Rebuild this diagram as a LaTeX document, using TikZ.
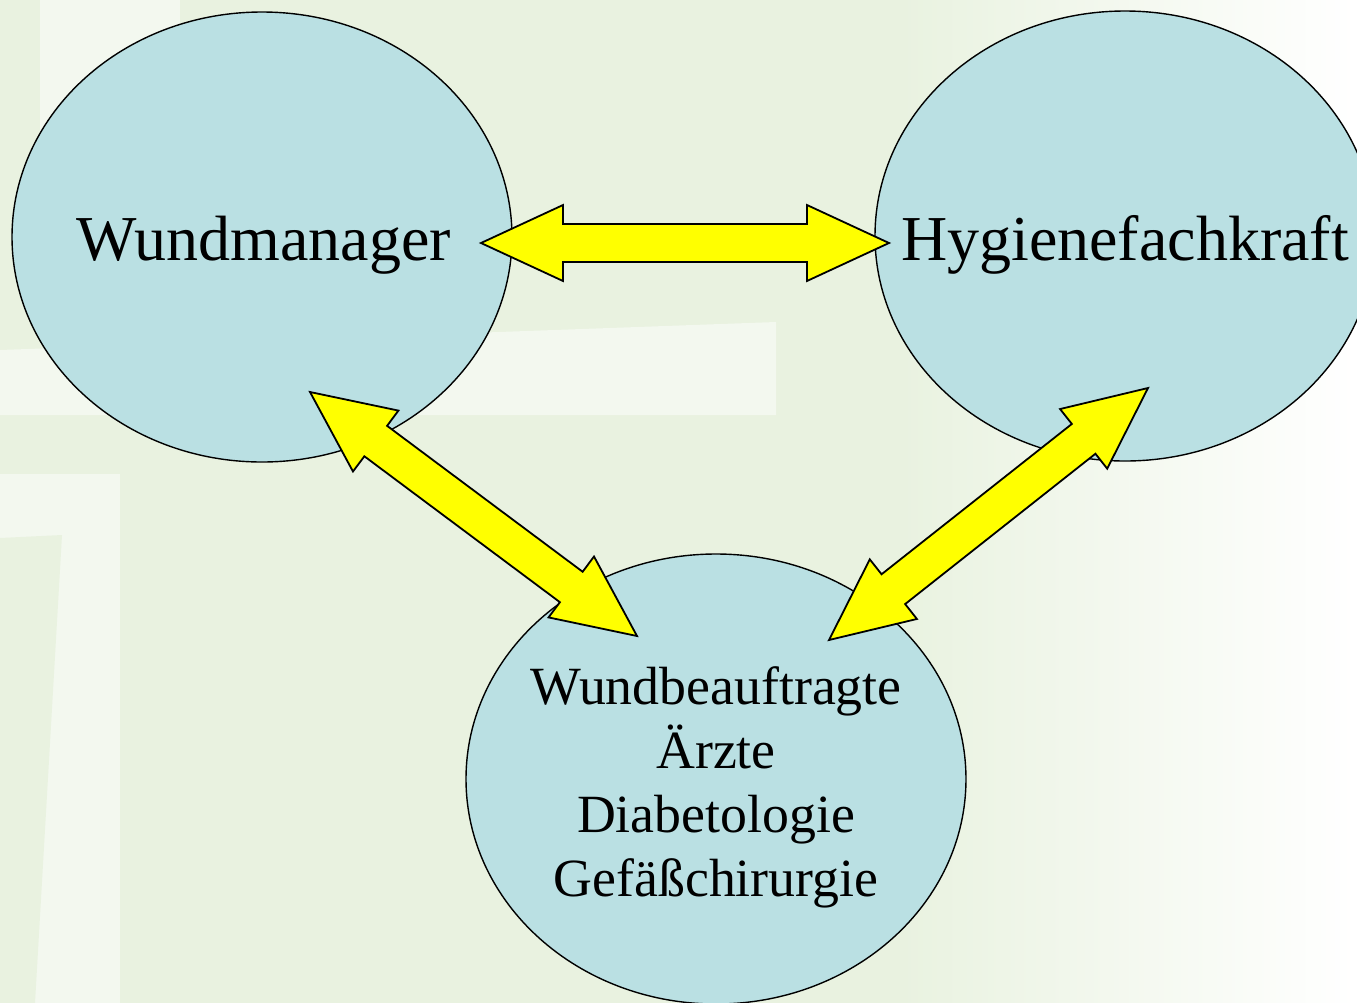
\documentclass[tikz,border=0pt]{standalone}
\usepackage{fontspec}
\setmainfont{Liberation Serif}
\usetikzlibrary{calc}
\usetikzlibrary{shapes.geometric}
\definecolor{ColBg}{RGB}{233,242,224}
\definecolor{ColBand}{RGB}{243,248,239}
\definecolor{ColBubble}{RGB}{186,224,227}
\definecolor{ColArrow}{RGB}{255,255,0}
\tikzstyle{Bubble}=[ellipse,draw=black,fill=ColBubble,line width=0.7pt,inner sep=0pt,
minimum width=250pt,minimum height=225pt]
\tikzstyle{BigArrow}=[draw=black,fill=ColArrow,line width=0.9pt,line join=miter]
\tikzstyle{BigText}=[font=\fontsize{32}{38}\selectfont,inner sep=0pt,anchor=base]
\tikzstyle{SmallText}=[font=\fontsize{26.9}{32}\selectfont,align=center,inner sep=0pt]
% double arrow between two named points
\newcommand\BothWays[2]{%
  \draw[BigArrow] let \p1=($(#2)-(#1)$), \n1={atan2(\y1,\x1)}, \n2={veclen(\x1,\y1)} in
    (#1) -- ++({\n1+24.86}:45.19pt) -- ++({\n1-90}:9.5pt) -- ++(\n1:{\n2-82pt})
    -- ++({\n1+90}:9.5pt) -- (#2) -- ++({\n1+204.86}:45.19pt) -- ++({\n1+90}:9.5pt)
    -- ++({\n1+180}:{\n2-82pt}) -- ++({\n1-90}:9.5pt) -- cycle;}

\begin{document}
\begin{tikzpicture}[x=0.5pt,y=-0.5pt]
        \path[use as bounding box,clip](0,0)rectangle(1357,1003);
        % background
        \fill[ColBg](0,0)rectangle(1357,1003);
        \shade[left color=ColBg,right color=white](900,0)rectangle(1357,1003);
        \fill[ColBand](0,350)--(776,322)--(776,415)--(0,415)--cycle;
        \fill[ColBand](0,474)rectangle(120,1003);
        \fill[ColBg](0,538)--(62,535)--(35,1003)--(0,1003)--cycle;
        \fill[ColBand](40,0)rectangle(180,160);
        % bubbles
        \node[Bubble](wm)at(262,237){};
        \node[Bubble](hf)at(1125,236){};
        \node[Bubble](wb)at(716,779){};
        % arrow ends
        \coordinate(wmR)at(481,243);
        \coordinate(hfL)at(889,243);
        \coordinate(wmB)at(310,392);
        \coordinate(wbL)at(637,636);
        \coordinate(hfB)at(1148,388);
        \coordinate(wbR)at(829,640);
        \BothWays{wmR}{hfL}
        \BothWays{wmB}{wbL}
        \BothWays{hfB}{wbR}
        % texts
        \node[BigText](wmtext)at(264,260){Wundmanager};
        \node[BigText](hftext)at(1125,260){Hygienefachkraft};
        \node[SmallText](wbtext)at(716,787){Wundbeauftragte\\Ärzte\\Diabetologie\\Gefäßchirurgie};
    \end{tikzpicture}
\end{document}
